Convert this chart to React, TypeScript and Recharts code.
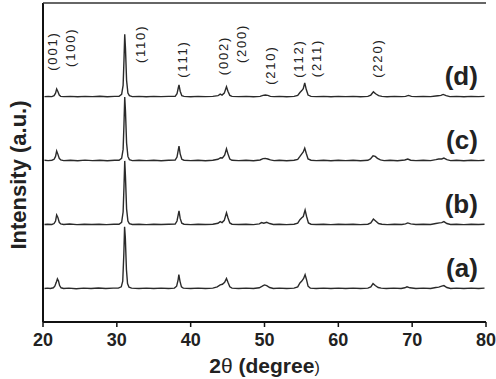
import React from 'react';
import { LineChart, Line, XAxis, YAxis, ReferenceDot, ReferenceLine } from 'recharts';

// 2θ ticks
const thetaTicks = [20, 30, 40, 50, 60, 70, 80];
// intensity (a.u.) axis range and minor right-axis ticks
const intensityDomain = [-52, 447];
const rightTicks = [-50, -25, 0, 25, 50, 75, 100, 125, 150, 175, 200, 225, 250, 275, 300, 325, 350, 375, 400, 425];

// sample names and stacking offsets
const sampleNames = ['(a)', '(b)', '(c)', '(d)'];
const sampleOffsets = [0, 100, 200, 300];
const sampleLabelTheta = 78.9;
const sampleLabelLift = 19;

// peak index labels
const peakLabels = ['(001)', '(100)', '(110)', '(111)', '(002)', '(200)', '(210)', '(112)', '(211)', '(220)'];
const peakLabelTheta = [21.35, 23.66, 33.27, 38.96, 44.38, 46.95, 50.75, 54.67, 56.98, 65.37];
const peakLabelIntensity = [341, 347, 353, 330, 334, 353, 319, 330, 331, 330];

type P = [number, number];

// relative intensities [2θ, I]
const traceA: P[] = [
  [20.2, 0.5], [20.6, 1], [21.0, 0.5], [21.4, 1.5], [21.6, 4], [21.8, 10], [21.95, 15.5], [22.1, 12], [22.25, 5], [22.45, 1.5],
  [22.8, 0.5], [23.5, 1], [24.5, 0], [25.5, 1], [26.5, 0.5], [27.5, 1.2], [28.5, 0.3], [29.5, 1], [30.2, 1], [30.6, 3],
  [30.8, 12], [30.95, 55], [31.05, 97], [31.15, 80], [31.3, 30], [31.45, 8], [31.65, 2.5], [32.0, 1], [33, 0.3], [34, 1],
  [35, 0.5], [36, 1], [37, 0.3], [37.8, 1], [38.1, 4], [38.3, 14], [38.4, 22], [38.55, 12], [38.75, 3], [39.0, 1],
  [40, 0.5], [41, 1], [42, 0.3], [43, 1], [43.6, 3], [44.0, 6], [44.3, 7], [44.6, 10], [44.85, 16], [45.05, 10],
  [45.3, 3], [45.6, 1], [46.5, 0.5], [47.5, 1], [48.5, 0.3], [49.3, 1.5], [49.7, 4], [50.0, 6], [50.3, 5], [50.7, 2],
  [51.2, 0.5], [52, 1], [53, 0.3], [54, 1], [54.5, 3], [54.8, 9], [55.05, 12], [55.3, 16], [55.5, 22], [55.7, 14],
  [55.9, 4], [56.2, 1], [57, 0.5], [58, 1], [59, 0.3], [60, 1], [61, 0.5], [62, 1], [63, 0.3], [64, 1],
  [64.4, 3], [64.7, 8], [65.0, 5], [65.4, 2], [65.8, 1], [66.5, 0.3], [67.5, 1], [68.5, 0.5], [69.0, 1.5], [69.3, 3],
  [69.7, 1.5], [70.5, 0.5], [71.5, 1], [72.5, 0.5], [73.2, 2], [73.6, 2.5], [74.0, 4], [74.3, 5], [74.7, 2], [75.2, 0.5],
  [76, 1], [77, 0.3], [78, 1], [79, 0.5], [79.8, 1],
];

const traceB: P[] = [
  [20.2, 0.5], [20.6, 1], [21.2, 0.5], [21.5, 2], [21.7, 6], [21.85, 15.5], [22.0, 12], [22.2, 4], [22.4, 1.5], [22.8, 0.5],
  [23.6, 1.2], [24.6, 0.3], [25.6, 1], [26.6, 0.5], [27.6, 1], [28.6, 0.3], [29.6, 1], [30.3, 1], [30.65, 4], [30.85, 20],
  [30.97, 60], [31.07, 100], [31.17, 75], [31.32, 25], [31.5, 6], [31.7, 2], [32.1, 0.5], [33, 1], [34, 0.3], [35, 1],
  [36, 0.5], [37, 1], [37.9, 1.2], [38.15, 6], [38.32, 16], [38.42, 22], [38.58, 10], [38.8, 2.5], [39.1, 1], [40, 0.3],
  [41, 1], [42, 0.5], [43, 1], [43.7, 2.5], [44.0, 5], [44.25, 3.5], [44.55, 7], [44.85, 19], [45.05, 11], [45.3, 3],
  [45.6, 1], [46.5, 0.5], [47.5, 1], [48.5, 0.3], [49.3, 1.5], [49.6, 3.5], [49.9, 2.5], [50.3, 4], [50.7, 2], [51.2, 0.5],
  [52, 1], [53, 0.3], [54, 1], [54.5, 2.5], [54.8, 8], [55.05, 11], [55.25, 13], [55.5, 23], [55.7, 13], [55.95, 3],
  [56.3, 1], [57, 0.5], [58, 1], [59, 0.3], [60, 1], [61, 0.5], [62, 1], [63, 0.3], [64, 1], [64.4, 3],
  [64.75, 9], [65.05, 6], [65.45, 2], [65.9, 1], [66.6, 0.3], [67.6, 1], [68.6, 0.5], [69.1, 1.5], [69.4, 3], [69.8, 1.5],
  [70.5, 0.5], [71.5, 1], [72.5, 0.5], [73.2, 2], [73.7, 3], [74.0, 3.5], [74.3, 5], [74.7, 2], [75.2, 0.5], [76, 1],
  [77, 0.3], [78, 1], [79, 0.5], [79.8, 1],
];

const traceC: P[] = [
  [20.2, 1], [20.7, 0.5], [21.2, 1], [21.5, 2.5], [21.7, 7], [21.85, 15.5], [22.0, 11], [22.2, 4], [22.4, 1.5], [22.8, 0.5],
  [23.7, 1], [24.7, 0.3], [25.7, 1.2], [26.7, 0.5], [27.7, 1], [28.7, 0.3], [29.7, 1], [30.3, 1], [30.65, 4], [30.85, 18],
  [30.97, 58], [31.07, 100], [31.17, 78], [31.32, 28], [31.5, 7], [31.7, 2], [32.1, 0.5], [33, 1], [34, 0.5], [35, 1],
  [36, 0.3], [37, 1], [37.9, 1.2], [38.15, 6], [38.32, 17], [38.42, 23], [38.58, 11], [38.8, 2.5], [39.1, 1], [40, 0.5],
  [41, 1], [42, 0.3], [43, 1], [43.7, 2.5], [44.05, 5], [44.3, 4.5], [44.6, 9], [44.85, 19], [45.05, 11], [45.3, 3],
  [45.6, 1], [46.5, 0.5], [47.5, 1], [48.5, 0.3], [49.4, 1.5], [49.8, 3.5], [50.1, 4], [50.45, 3], [50.8, 1.5], [51.3, 0.5],
  [52, 1], [53, 0.3], [54, 1], [54.5, 2.5], [54.8, 7], [55.05, 11], [55.25, 14], [55.45, 20], [55.65, 12], [55.9, 3],
  [56.3, 1], [57, 0.5], [58, 1], [59, 0.3], [60, 1], [61, 0.5], [62, 1], [63, 0.3], [64, 1], [64.35, 3],
  [64.7, 8], [65.0, 7], [65.3, 4], [65.7, 1.5], [66.2, 0.5], [67, 1], [68, 0.3], [69.0, 1.5], [69.4, 3], [69.8, 1],
  [70.5, 0.5], [71.5, 1], [72.5, 0.5], [73.2, 2], [73.6, 3], [74.0, 3], [74.3, 4.5], [74.7, 2], [75.2, 0.5], [76, 1],
  [77, 0.3], [78, 1], [79, 0.5], [79.8, 1],
];

const traceD: P[] = [
  [20.2, 0.5], [20.7, 1], [21.2, 0.5], [21.5, 2], [21.7, 6], [21.85, 12.5], [22.0, 9], [22.2, 3], [22.4, 1], [22.8, 0.5],
  [23.7, 1], [24.7, 0.3], [25.7, 1], [26.7, 0.5], [27.7, 1.2], [28.7, 0.3], [29.7, 1], [30.3, 1], [30.65, 4], [30.85, 18],
  [30.97, 58], [31.07, 98], [31.17, 76], [31.32, 26], [31.5, 6], [31.7, 2], [32.1, 0.5], [33, 1], [34, 0.3], [35, 1],
  [36, 0.5], [37, 1], [37.9, 1], [38.15, 5], [38.32, 14], [38.42, 19], [38.58, 9], [38.8, 2], [39.1, 1], [40, 0.3],
  [41, 1], [42, 0.5], [43, 1], [43.7, 2], [44.0, 4.5], [44.25, 3], [44.55, 6], [44.85, 16], [45.05, 9], [45.3, 2.5],
  [45.6, 1], [46.5, 0.5], [47.5, 1], [48.5, 0.3], [49.4, 1], [49.8, 2.5], [50.1, 3], [50.45, 2.5], [50.8, 1], [51.3, 0.5],
  [52, 1], [53, 0.3], [54, 1], [54.5, 2.5], [54.8, 7], [55.05, 10], [55.25, 13], [55.45, 22], [55.65, 12], [55.9, 3],
  [56.3, 1], [57, 0.5], [58, 1], [59, 0.3], [60, 1], [61, 0.5], [62, 1], [63, 0.3], [64, 1], [64.4, 3],
  [64.75, 8], [65.05, 5], [65.45, 2], [65.9, 1], [66.6, 0.3], [67.6, 1], [68.6, 0.5], [69.1, 1], [69.5, 2.5], [69.9, 1],
  [70.5, 0.5], [71.5, 1], [72.5, 0.5], [73.2, 1.5], [73.5, 2], [73.9, 2.5], [74.2, 4], [74.6, 2], [75.1, 0.5], [76, 1],
  [77, 0.3], [78, 1], [79, 0.5], [79.8, 1],
];

const traces = [traceA, traceB, traceC, traceD];

const FONT = '"Liberation Sans", Arial, Helvetica, sans-serif';
const INK = '#222';

const PeakLabel = (text: string) => (props: any) => {
  const { cx, cy } = props;
  if (cx == null || cy == null) return <g />;
  return (
    <text
      x={cx}
      y={cy}
      transform={`rotate(-90, ${cx}, ${cy})`}
      textAnchor="start"
      dominantBaseline="central"
      fontFamily={FONT}
      fontSize={13}
      letterSpacing={1.8}
      fill="#222"
    >
      {text}
    </text>
  );
};

const SampleLabel = (text: string) => (props: any) => {
  const { cx, cy } = props;
  if (cx == null || cy == null) return <g />;
  return (
    <text x={cx} y={cy} textAnchor="end" fontFamily={FONT} fontSize={26} fontWeight="bold" fill={INK}>
      {text}
    </text>
  );
};

export default function App() {
  const series = traces.map((t, i) => t.map(([x, y]) => ({ x, y: y + sampleOffsets[i] })));
  return (
    <div style={{ position: 'absolute', left: 0, top: 0, width: 496, height: 379 }}>
      <LineChart width={496} height={379} margin={{ top: 3, right: 10, left: 43, bottom: 27 }}>
        <XAxis
          type="number"
          dataKey="x"
          domain={[20, 80]}
          ticks={thetaTicks}
          allowDataOverflow
          height={30}
          stroke={INK}
          axisLine={{ stroke: '#111', strokeWidth: 2 }}
          tickLine={{ stroke: '#111', strokeWidth: 1.5 }}
          tickSize={5}
          tickMargin={6}
          tick={{ fontSize: 18, fontWeight: 'bold', fill: INK, fontFamily: FONT }}
          label={{
            content: (p: any) => {
              const vb = p.viewBox || {};
              const cx = vb.x + vb.width / 2;
              return (
                <text x={cx} y={vb.y + 51} textAnchor="middle" fontFamily={FONT} fontSize={21} fill={INK}>
                  <tspan fontWeight="bold">2</tspan>
                  <tspan>θ</tspan>
                  <tspan fontWeight="bold"> (degree</tspan>
                  <tspan fontSize={16}>)</tspan>
                </text>
              );
            },
          }}
        />
        <YAxis
          yAxisId="r"
          orientation="right"
          type="number"
          domain={intensityDomain}
          ticks={rightTicks}
          allowDataOverflow
          mirror
          width={0}
          tick={false}
          tickSize={3}
          axisLine={{ stroke: '#555', strokeWidth: 1.5 }}
          tickLine={{ stroke: '#777', strokeWidth: 1 }}
        />
        <ReferenceLine yAxisId="r" x={20} stroke="#111" strokeWidth={2} />
        <ReferenceLine yAxisId="r" y={intensityDomain[1]} stroke="#333" strokeWidth={1.5} />
        {series.map((d, i) => (
          <Line
            key={sampleNames[i]}
            yAxisId="r"
            data={d}
            dataKey="y"
            type="linear"
            stroke="#2a2a2a"
            strokeWidth={1.4}
            dot={false}
            isAnimationActive={false}
          />
        ))}
        {peakLabels.map((t, i) => (
          <ReferenceDot
            key={t}
            yAxisId="r"
            x={peakLabelTheta[i]}
            y={peakLabelIntensity[i]}
            r={1}
            shape={PeakLabel(t)}
          />
        ))}
        {sampleNames.map((t, i) => (
          <ReferenceDot
            key={t}
            yAxisId="r"
            x={sampleLabelTheta}
            y={sampleOffsets[i] + sampleLabelLift}
            r={1}
            shape={SampleLabel(t)}
          />
        ))}
      </LineChart>
      <svg
        width={40}
        height={379}
        style={{ position: 'absolute', left: 0, top: 0, pointerEvents: 'none' }}
      >
        <text
          x={26}
          y={175}
          transform="rotate(-90, 26, 175)"
          textAnchor="middle"
          fontFamily={FONT}
          fontSize={22}
          fontWeight="bold"
          fill={INK}
        >
          Intensity (a.u.)
        </text>
      </svg>
    </div>
  );
}
